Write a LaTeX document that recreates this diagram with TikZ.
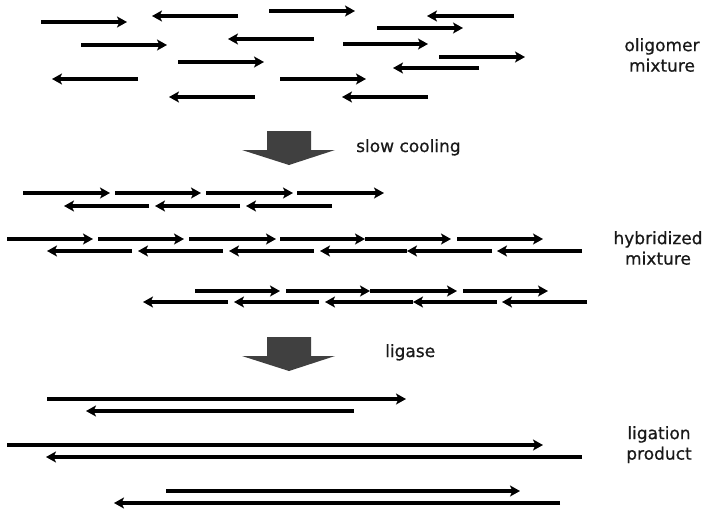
\documentclass[tikz,border=0pt]{standalone}
\usepackage{fontspec}
\setmainfont{DejaVu Sans}
\newfontfamily\notefont[FakeBold=0.7]{DejaVu Sans}
\usetikzlibrary{arrows.meta}
\begin{document}
\begin{tikzpicture}[x=1pt,y=-1pt,
  strand/.style={line width=3.1pt,-{Stealth[length=10pt,width=11pt,inset=2.5pt]}},
  bigarrow/.style={fill=black!75,draw=none},
  sidetext/.style={font=\notefont\fontsize{17}{20.5}\selectfont,text=black!90,inner sep=0pt,align=center},
  steptext/.style={font=\notefont\fontsize{17}{20.5}\selectfont,text=black!90,inner sep=0pt}]
\useasboundingbox (0,0) rectangle (707,509);

% --- oligomer mixture: single strands scattered in both directions
\foreach \a/\b/\y in {41/127/22, 269/355/11, 81/167/45, 343/428/44, 178/264/62,
                      280/366/79, 377/463/28, 439/525/57}
  \draw[strand] (\a,\y) -- (\b,\y);
\foreach \t/\s/\y in {152/238/16, 228/314/39, 52/138/79, 169/255/97, 342/428/97,
                      427/514/16, 393/479/68}
  \draw[strand] (\s,\y) -- (\t,\y);
\node[sidetext,anchor=north] (olig) at (662,38) {oligomer\\mixture};

% --- first process step
\fill[bigarrow] (267,131) -- (311,131) -- (311,150) -- (335,150) -- (289,165)
  -- (242,150) -- (267,150) -- cycle;
\node[steptext,anchor=base west] (cool) at (356,152) {slow cooling};

% --- hybridized mixture: staggered duplexes
\foreach \a/\b/\y in {23/110/193, 115/201/193, 206/293/193, 297/384/193,
                      7/93/239, 98/184/239, 189/276/239, 280/365/239, 365/451/239, 457/543/239,
                      195/280/291, 286/370/291, 370/457/291, 463/548/291}
  \draw[strand] (\a,\y) -- (\b,\y);
\foreach \t/\s/\y in {64/149/206, 155/240/206, 246/332/206,
                      47/132/251, 138/223/251, 229/314/251, 320/407/251, 407/492/251, 497/582/251,
                      143/228/302, 234/319/302, 325/413/302, 413/497/302, 502/587/302}
  \draw[strand] (\s,\y) -- (\t,\y);
\node[sidetext,anchor=north] (hyb) at (658,231) {hybridized\\mixture};

% --- second process step
\fill[bigarrow] (267,337) -- (311,337) -- (311,356) -- (335,356) -- (289,371)
  -- (242,356) -- (267,356) -- cycle;
\node[steptext,anchor=base west] (lig) at (385,357) {ligase};

% --- ligation product: long joined strands
\foreach \a/\b/\y in {47/406/399, 7/543/445, 166/520/491}
  \draw[strand] (\a,\y) -- (\b,\y);
\foreach \t/\s/\y in {86/354/411, 46/582/457, 114/560/503}
  \draw[strand] (\s,\y) -- (\t,\y);
\node[sidetext,anchor=north] (prod) at (659,426) {ligation\\product};
\end{tikzpicture}
\end{document}
